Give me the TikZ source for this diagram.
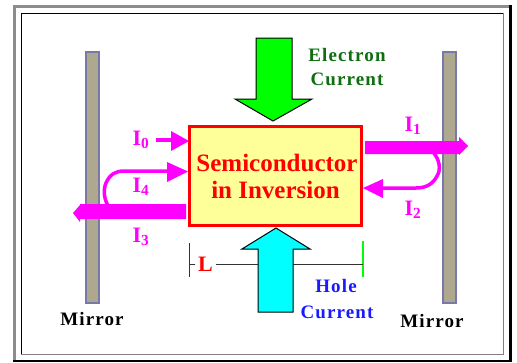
\documentclass[tikz,border=0pt]{standalone}
\usepackage{fontspec}
\setmainfont{Liberation Serif}
\newfontfamily\spaced[LetterSpace=6]{Liberation Serif}
\begin{document}
\begin{tikzpicture}[x=1pt,y=-1pt,
  mirrorbar/.style={draw=mirrorline,fill=mirrorfill,line width=2pt},
  block/.style={draw=red,fill=blockfill,line width=3pt,minimum width=172pt,minimum height=99pt,inner sep=0pt,
     font=\bfseries\fontsize{25}{27}\selectfont,text=red,align=center},
  flowarrow/.style={draw=black,line width=1pt,miter limit=4},
  wave/.style={fill=magenta1,draw=none},
  waveline/.style={draw=magenta1,line width=3.5pt},
  lab/.style={font=\bfseries\fontsize{22}{22}\selectfont,text=magenta1,inner sep=0pt},
  capt/.style={font=\bfseries\spaced\fontsize{19}{19}\selectfont,inner sep=0pt,anchor=center},
  dim/.style={draw=black!80,line width=1pt}]
\definecolor{mirrorline}{HTML}{7878AA}
\definecolor{mirrorfill}{HTML}{ADA88E}
\definecolor{blockfill}{HTML}{FFFF99}
\definecolor{magenta1}{HTML}{FF00FF}
\definecolor{darkgreen}{HTML}{0F6E0F}
\definecolor{holeblue}{HTML}{1A1AFF}
\definecolor{aqua}{HTML}{00FFFF}
\useasboundingbox (0,0) rectangle (517,362);
% frame
\fill[white] (0,0) rectangle (517,362);
\fill[gray!90] (13,5) rectangle (509,8);
\fill[gray!90] (13,5) rectangle (16,360);
\fill[black] (509,5) rectangle (512,362);
\fill[black] (13,360) rectangle (512,362);
\draw[black,line width=1pt] (21.5,354) -- (21.5,13.5) -- (503,13.5);
\draw[gray,line width=1pt] (503.5,13) -- (503.5,354.5) -- (21,354.5);
% mirrors
\draw[mirrorbar] (86,52) rectangle (99,303);
\draw[mirrorbar] (443,52) rectangle (456,303);
% block
\node[block] (semi) at (275.5,176) {\hspace*{3pt}Semiconductor\\in Inversion};
% electron arrow
\draw[flowarrow,fill=green] (256,38) -- (292,38) -- (292,99) -- (312,99) -- (273,121) -- (235,99) -- (256,99) -- cycle;
% dimension
\coordinate (dl1) at (189,243); \coordinate (dl2) at (189,277);
\coordinate (dr1) at (363,241); \coordinate (dr2) at (363,277);
\coordinate (dlm) at (189,264); \coordinate (drm) at (363,264);
\node[font=\bfseries\fontsize{22}{22}\selectfont,text=red,inner sep=0pt,minimum width=20pt] (L) at (205.5,264) {L};
\draw[dim] (dl1) -- (dl2);
\draw[green,line width=1.5pt] (dr1) -- (dr2);
\draw[dim] (dlm) -- (L);
\draw[dim] (L) -- (drm);
% hole arrow
\draw[flowarrow,fill=aqua] (276,228) -- (310,249) -- (293,249) -- (293,312) -- (258,312) -- (258,249) -- (242,249) -- cycle;
% I1
\fill[wave] (365,141) -- (459,141) -- (459,137) -- (468,146) -- (459,155) -- (459,154) -- (365,154) -- cycle;
% I2
\draw[waveline] (433,152) .. controls (440,160) and (441,170) .. (437,176) .. controls (433,184) and (426,188) .. (416,188) -- (380,188);
\fill[wave] (363,188) -- (383,179) -- (383,198) -- cycle;
% I3
\fill[wave] (186,204) -- (80,204) -- (80,205) -- (73,213) -- (80,222) -- (80,219) -- (186,219) -- cycle;
% I4
\draw[waveline] (109,207) .. controls (104,200) and (103,190) .. (106,183) .. controls (110,174) and (116,171) .. (124,171) -- (170,171);
\fill[wave] (188,171.5) -- (167,162) -- (167,182) -- cycle;
% I0
\draw[waveline] (156,140) -- (173,140);
\fill[wave] (189,141) -- (171,131) -- (171,151) -- cycle;
% labels
\node[lab] (i0) at (141,140) {I\textsubscript{0}};
\node[lab] (i1) at (413,126) {I\textsubscript{1}};
\node[lab] (i2) at (413,210) {I\textsubscript{2}};
\node[lab] (i3) at (141,237) {I\textsubscript{3}};
\node[lab] (i4) at (141,187) {I\textsubscript{4}};
\node[capt,text=darkgreen] (e1) at (347,55) {Electron};
\node[capt,text=darkgreen] (e2) at (347,79) {Current};
\node[capt,text=holeblue] (h1) at (336,286) {Hole};
\node[capt,text=holeblue] (h2) at (337,312) {Current};
\node[capt,text=black] (m1) at (92,319) {Mirror};
\node[capt,text=black] (m2) at (432,321) {Mirror};
\end{tikzpicture}
\end{document}
